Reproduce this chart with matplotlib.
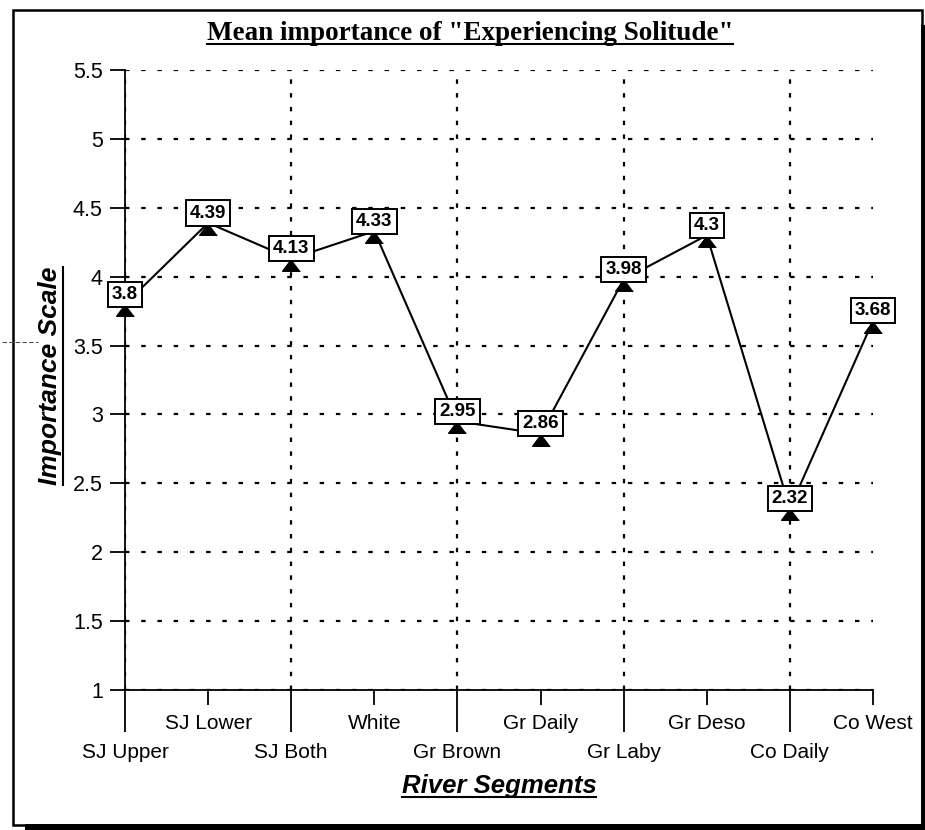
import matplotlib.pyplot as plt
from matplotlib.patches import Rectangle
from matplotlib.lines import Line2D

segments = ["SJ Upper", "SJ Lower", "SJ Both", "White", "Gr Brown",
            "Gr Daily", "Gr Laby", "Gr Deso", "Co Daily", "Co West"]
means = [3.8, 4.39, 4.13, 4.33, 2.95, 2.86, 3.98, 4.3, 2.32, 3.68]
yticks = [1, 1.5, 2, 2.5, 3, 3.5, 4, 4.5, 5, 5.5]
ytick_labels = ["1", "1.5", "2", "2.5", "3", "3.5", "4", "4.5", "5", "5.5"]

W, H = 925, 830
fig = plt.figure(figsize=(W / 100, H / 100), dpi=100)
fig.patch.set_facecolor("white")


def fx(px):
    return px / W


def fy(py):
    return 1 - py / H


ax = fig.add_axes([fx(125), fy(690), fx(873) - fx(125), fy(70) - fy(690)])
ax.set_facecolor("none")

x = list(range(len(segments)))
ax.plot(x, means, color="black", lw=1.5, zorder=3, clip_on=False)
tri = [(0, 0), (-0.75, -1), (0.75, -1)]
ax.plot(x, means, linestyle="none", marker=tri, markersize=17,
        color="black", zorder=4, clip_on=False)
for xi, v in zip(x, means):
    ax.annotate(f"{v:g}", (xi, v), xytext=(0, 1), textcoords="offset points",
                ha="center", va="bottom", fontsize=13.5, fontweight="bold",
                family="Liberation Sans", zorder=5,
                bbox=dict(boxstyle="square,pad=0.22", fc="white", ec="black", lw=1.4))

ax.set_xlim(0, 9)
ax.set_ylim(1, 5.5)
ax.set_yticks(yticks)
ax.set_yticklabels(ytick_labels)
ax.set_xticks(x[0::2])
ax.set_xticklabels(segments[0::2])
ax.set_xticks(x[1::2], minor=True)
ax.set_xticklabels(segments[1::2], minor=True)

ax.tick_params(axis="y", direction="out", length=11, width=1.3, pad=5,
               labelsize=15.5)
ax.tick_params(axis="x", which="major", direction="out", length=30, width=1.3,
               pad=8, labelsize=15)
ax.tick_params(axis="x", which="minor", direction="out", length=11, width=1.3,
               pad=6, labelsize=15)
for lab in ax.get_xticklabels(which="both") + ax.get_yticklabels():
    lab.set_family("Liberation Sans")

for s in ["top", "right"]:
    ax.spines[s].set_visible(False)
for s in ["left", "bottom"]:
    ax.spines[s].set_linewidth(1.3)

ax.grid(axis="y", color="black", lw=1.6, linestyle=(0, (2, 5.3)))
ax.grid(axis="x", which="major", color="black", lw=1.6, linestyle=(0, (2, 4.2)))
ax.set_axisbelow(True)

title = fig.text(fx(470), fy(33), 'Mean importance of "Experiencing Solitude"',
                 ha="center", va="center", fontsize=19.5, fontweight="bold",
                 family="Liberation Serif")
ylab = fig.text(fx(50), fy(376), "Importance Scale", rotation=90,
                ha="center", va="center", fontsize=19, fontweight="bold",
                style="italic", family="Liberation Sans")
xlab = fig.text(fx(499), fy(786), "River Segments", ha="center", va="center",
                fontsize=18.5, fontweight="bold", style="italic",
                family="Liberation Sans")

# frame with drop shadow
fig.add_artist(Rectangle((fx(13), fy(825)), fx(922) - fx(13), fy(10) - fy(825),
                         transform=fig.transFigure, fill=False, ec="black", lw=1.8))
fig.add_artist(Rectangle((fx(921), fy(830)), fx(926) - fx(921), fy(25) - fy(830),
                         transform=fig.transFigure, color="black", lw=0))
fig.add_artist(Rectangle((fx(25), fy(830)), fx(926) - fx(25), fy(824) - fy(830),
                         transform=fig.transFigure, color="black", lw=0))
fig.add_artist(Line2D([fx(2), fx(38)], [fy(342), fy(342)], transform=fig.transFigure,
                      color="#555555", lw=0.8, linestyle=(0, (4, 2))))

# underline title and axis labels
fig.canvas.draw()
r = fig.canvas.get_renderer()
for t, vertical in [(title, False), (xlab, False), (ylab, True)]:
    bb = t.get_window_extent(r)
    if vertical:
        xx = bb.x1 + 1
        fig.add_artist(Line2D([xx / W, xx / W], [bb.y0 / H, bb.y1 / H],
                              transform=fig.transFigure, color="black", lw=1.5))
    else:
        yy = bb.y0 + 1
        fig.add_artist(Line2D([bb.x0 / W, bb.x1 / W], [yy / H, yy / H],
                              transform=fig.transFigure, color="black", lw=1.5))

fig.savefig("out.png", dpi=100)
